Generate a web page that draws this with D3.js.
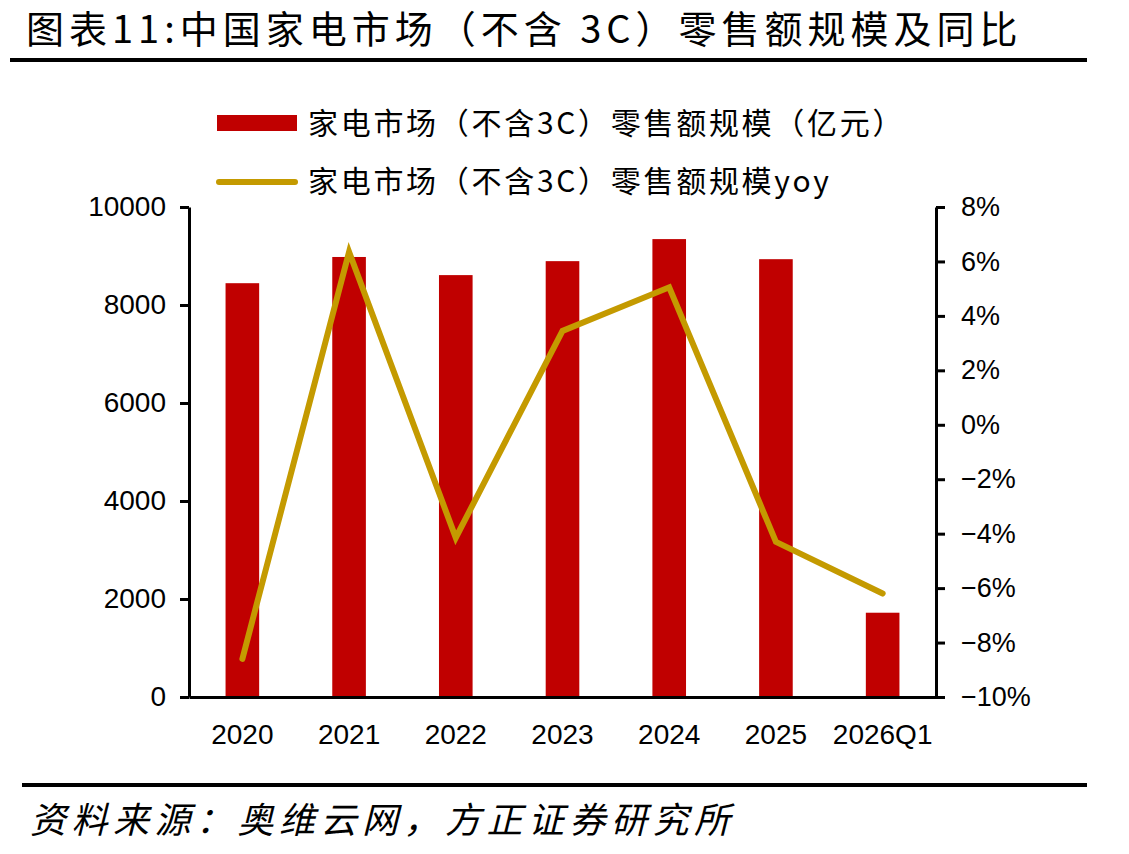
<!DOCTYPE html>
<html>
<head>
<meta charset="utf-8">
<script src="https://cdn.jsdelivr.net/npm/d3@7"></script>
<style>
  body { margin: 0; background: #fff; }
  svg { display: block; }
</style>
</head>
<body>
<svg id="chart"></svg>
<script>
var width = 1129;
var height = 854;

// data
var categories = ["2020", "2021", "2022", "2023", "2024", "2025", "2026Q1"];
var salesValues = [8445, 8980, 8610, 8895, 9345, 8935, 1720];   // 亿元
var yoyValues = [-8.6, 6.35, -4.15, 3.45, 5.05, -4.3, -6.2];     // %
var leftTicks = [0, 2000, 4000, 6000, 8000, 10000];
var rightTicks = [-10, -8, -6, -4, -2, 0, 2, 4, 6, 8];

var plot = { left: 189, right: 936, top: 207, bottom: 697 };

var barColor = "#C00000";
var lineColor = "#C49A00";
var cjkFont = "'Noto Sans CJK SC', sans-serif";
var numFont = "'Liberation Sans', Arial, sans-serif";

var svg = d3.select("#chart")
    .attr("width", width)
    .attr("height", height);

// x scale (categories)
var xScale = d3.scaleBand()
    .domain(categories)
    .range([plot.left, plot.right])
    .paddingInner(0)
    .paddingOuter(0);

// left y scale: sales
var yLeft = d3.scaleLinear()
    .domain([0, 10000])
    .range([plot.bottom, plot.top]);

// right y scale: yoy %
var yRight = d3.scaleLinear()
    .domain([-10, 8])
    .range([plot.bottom, plot.top]);

// title
svg.append("text")
    .attr("x", 26)
    .attr("y", 43)
    .style("font-family", cjkFont)
    .style("font-size", "38px")
    .style("letter-spacing", "5px")
    .style("fill", "#000")
    .text("图表11:中国家电市场（不含 3C）零售额规模及同比");

svg.append("line")
    .attr("x1", 10).attr("x2", 1087)
    .attr("y1", 60).attr("y2", 60)
    .attr("stroke", "#000")
    .attr("stroke-width", 4);

// bars
var barWidth = xScale.bandwidth() * 0.315;
svg.append("g")
    .selectAll("rect")
    .data(salesValues)
    .enter()
    .append("rect")
        .attr("x", (d, i) => xScale(categories[i]) + xScale.bandwidth() / 2 - barWidth / 2)
        .attr("y", d => yLeft(d))
        .attr("width", barWidth)
        .attr("height", d => plot.bottom - yLeft(d))
        .attr("fill", barColor);

// yoy line
var line = d3.line()
    .x((d, i) => xScale(categories[i]) + xScale.bandwidth() / 2)
    .y(d => yRight(d));

svg.append("path")
    .datum(yoyValues)
    .attr("d", line)
    .attr("fill", "none")
    .attr("stroke", lineColor)
    .attr("stroke-width", 6)
    .attr("stroke-linecap", "round")
    .attr("stroke-linejoin", "miter");

// left axis
var leftAxis = d3.axisLeft(yLeft)
    .tickValues(leftTicks)
    .tickSize(9)
    .tickSizeOuter(0)
    .tickPadding(14)
    .tickFormat(d3.format("d"));

var gLeft = svg.append("g")
    .attr("transform", `translate(${plot.left},0)`)
    .call(leftAxis);

// right axis
var rightAxis = d3.axisRight(yRight)
    .tickValues(rightTicks)
    .tickSize(9)
    .tickSizeOuter(0)
    .tickPadding(16)
    .tickFormat(d => (d < 0 ? "\u2212" + Math.abs(d) : d) + "%");

var gRight = svg.append("g")
    .attr("transform", `translate(${plot.right},0)`)
    .call(rightAxis);

// bottom axis
var bottomAxis = d3.axisBottom(xScale)
    .tickSize(0)
    .tickSizeOuter(0)
    .tickPadding(27);

var gBottom = svg.append("g")
    .attr("transform", `translate(0,${plot.bottom})`)
    .call(bottomAxis);

[gLeft, gRight, gBottom].forEach(g => {
    g.select(".domain").attr("stroke", "#000").attr("stroke-width", 3);
    g.selectAll(".tick line").attr("stroke", "#000").attr("stroke-width", 3);
    g.selectAll(".tick text")
        .style("font-family", numFont)
        .style("font-size", "28px")
        .style("fill", "#000");
});
gRight.selectAll(".tick text").style("font-size", "27px");

// legend
var legend = svg.append("g");

legend.append("rect")
    .attr("x", 217).attr("y", 115)
    .attr("width", 80).attr("height", 16)
    .attr("fill", barColor);

legend.append("line")
    .attr("x1", 219).attr("x2", 295)
    .attr("y1", 182).attr("y2", 182)
    .attr("stroke", lineColor)
    .attr("stroke-width", 6)
    .attr("stroke-linecap", "round");

legend.append("text")
    .attr("x", 308).attr("y", 134)
    .style("font-family", cjkFont)
    .style("font-size", "30px")
    .style("letter-spacing", "2.7px")
    .text("家电市场（不含3C）零售额规模（亿元）");

legend.append("text")
    .attr("x", 308).attr("y", 192)
    .style("font-family", cjkFont)
    .style("font-size", "30px")
    .style("letter-spacing", "2.7px")
    .text("家电市场（不含3C）零售额规模yoy");

// footer
svg.append("line")
    .attr("x1", 22).attr("x2", 1087)
    .attr("y1", 785).attr("y2", 785)
    .attr("stroke", "#000")
    .attr("stroke-width", 4);

svg.append("text")
    .attr("x", 30)
    .attr("y", 833)
    .style("font-family", cjkFont)
    .style("font-size", "36px")
    .style("font-style", "italic")
    .style("letter-spacing", "5.5px")
    .text("资料来源：奥维云网，方正证券研究所");
</script>
</body>
</html>
